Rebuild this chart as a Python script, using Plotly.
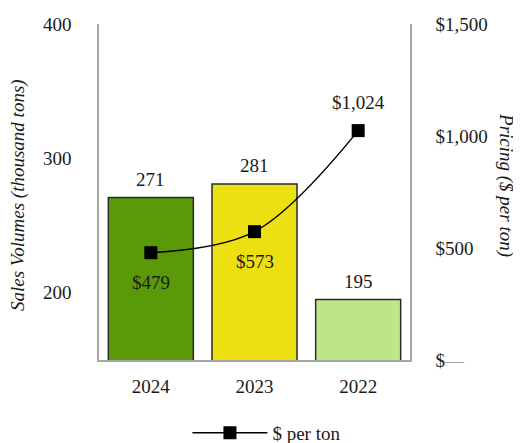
import plotly.graph_objects as go

years = ["2024", "2023", "2022"]
volumes = [271, 281, 195]
prices = [479, 573, 1024]
bar_colors = ["#5a9a08", "#ecdf12", "#bde687"]
price_labels = ["$479", "$573", "$1,024"]
price_label_shift = [-30, -30, 28]
left_ticks = [200, 300, 400]
right_ticks = [0, 500, 1000, 1500]
right_ticktext = ["$<span style='color:#a0a0a0'>—</span>", "$500", "$1,000", "$1,500"]

FONT = "Times New Roman, Liberation Serif, DejaVu Serif, serif"
FS = 19
TXT = "#1a1a1a"

fig = go.Figure()
fig.add_trace(go.Bar(
    x=years, y=volumes, marker=dict(color=bar_colors, line=dict(color="#2a2a2a", width=1.5)),
    showlegend=False, hoverinfo="skip", yaxis="y"
))
fig.add_trace(go.Scatter(
    x=years, y=prices, mode="lines+markers", name="$ per ton",
    line=dict(color="black", width=1.5, shape="spline", smoothing=1.0),
    marker=dict(symbol="square", size=13, color="black"),
    yaxis="y2"
))

annotations = []
# category axis: annotation x given as the category index of each year
for i, v in enumerate(volumes):
    annotations.append(dict(x=i, y=v, xref="x", yref="y", text=str(v), showarrow=False,
                            yshift=18, font=dict(family=FONT, size=FS, color=TXT)))
for i, (p, lab, sh) in enumerate(zip(prices, price_labels, price_label_shift)):
    annotations.append(dict(x=i, y=p, xref="x", yref="y2", text=lab, showarrow=False,
                            yshift=sh, font=dict(family=FONT, size=FS, color=TXT)))
annotations.append(dict(x=-0.30, y=0.49, xref="paper", yref="paper", textangle=-90,
                        text="<i>Sales Volumes (thousand tons)</i>", showarrow=False,
                        font=dict(family=FONT, size=FS, color=TXT)))
annotations.append(dict(x=1.348, y=0.52, xref="paper", yref="paper", textangle=90,
                        text="<i>Pricing ($ per ton)</i>", showarrow=False,
                        font=dict(family=FONT, size=FS, color=TXT)))

fig.update_layout(
    width=513, height=435,
    margin=dict(l=91, r=111, t=16, b=83, autoexpand=False),
    paper_bgcolor="white", plot_bgcolor="white",
    font=dict(family=FONT, size=FS, color=TXT),
    bargap=0.18,
    xaxis=dict(type="category", showline=True, linecolor="#a6a6a6", linewidth=1.5, showgrid=False,
               ticks="", ticklabelstandoff=8, automargin=False,
               tickfont=dict(family=FONT, size=FS, color=TXT)),
    yaxis=dict(range=[150, 400], tickvals=left_ticks, showline=True, linecolor="#a6a6a6",
               linewidth=1.5, showgrid=False, zeroline=False, ticks="", ticklabelstandoff=22,
               automargin=False, tickfont=dict(family=FONT, size=FS, color=TXT)),
    yaxis2=dict(range=[0, 1500], tickvals=right_ticks, ticktext=right_ticktext, overlaying="y",
                side="right", showline=True, linecolor="#a6a6a6", linewidth=1.5, showgrid=False,
                zeroline=False, ticks="", ticklabelstandoff=20, automargin=False,
                tickfont=dict(family=FONT, size=FS, color=TXT)),
    legend=dict(orientation="h", x=0.54, xanchor="center", y=-0.217, yanchor="middle",
                font=dict(family=FONT, size=FS, color=TXT), itemwidth=75, bgcolor="rgba(0,0,0,0)"),
    annotations=annotations,
)

fig.write_html("out.html")
